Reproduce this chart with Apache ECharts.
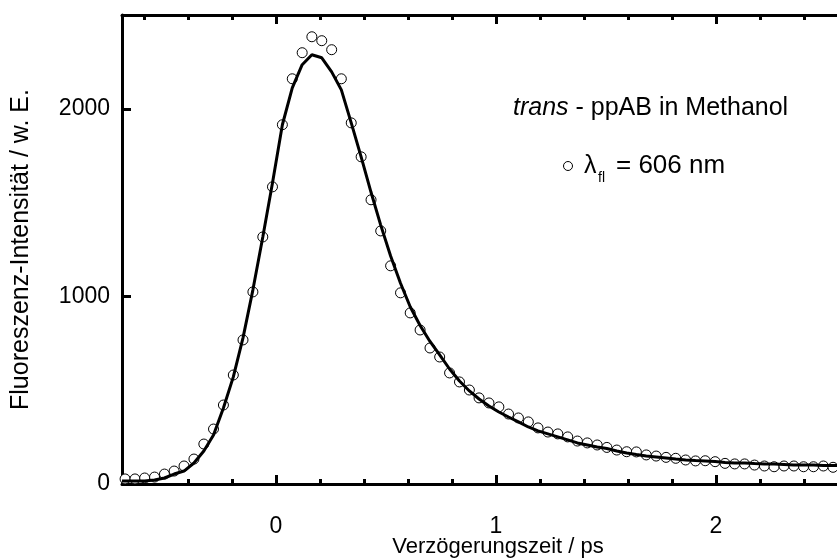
<!DOCTYPE html>
<html>
<head>
<meta charset="utf-8">
<script src="https://cdn.jsdelivr.net/npm/echarts@6/dist/echarts.min.js"></script>
<style>
html,body{margin:0;padding:0;background:#fff;}
#chart{width:837px;height:559px;}
</style>
</head>
<body>
<div id="chart"></div>
<script>
// Delay times (ps) of measured points
var timePs = [-0.686,-0.641,-0.597,-0.552,-0.507,-0.463,-0.418,-0.373,-0.328,-0.284,
  -0.239,-0.194,-0.150,-0.105,-0.060,-0.016,0.029,0.074,0.119,0.163,
  0.208,0.253,0.297,0.342,0.387,0.432,0.476,0.521,0.566,0.610,
  0.655,0.700,0.744,0.789,0.834,0.879,0.923,0.968,1.013,1.057,
  1.102,1.147,1.191,1.236,1.281,1.326,1.370,1.415,1.460,1.504,
  1.549,1.594,1.638,1.683,1.728,1.773,1.817,1.862,1.907,1.951,
  1.996,2.041,2.085,2.130,2.175,2.220,2.264,2.309,2.354,2.398,
  2.443,2.488,2.532];
// Measured fluorescence intensity (open circles)
var intensity = [27,27,32,37,53,69,96,133,213,293,
  421,581,768,1024,1317,1584,1915,2160,2299,2384,
  2363,2315,2160,1925,1744,1515,1349,1163,1019,912,
  821,725,677,592,544,501,459,432,411,373,
  352,331,299,277,267,251,229,219,208,195,
  181,172,171,155,149,142,137,128,123,124,
  119,110,107,107,101,96,92,96,96,92,
  92,96,89];
// Fit curve (solid line)
var fitTime = [-0.700,-0.686,-0.641,-0.597,-0.552,-0.507,-0.463,-0.418,-0.373,-0.328,-0.284,
  -0.239,-0.194,-0.150,-0.105,-0.060,-0.016,0.029,0.074,0.119,0.163,
  0.208,0.253,0.297,0.342,0.387,0.432,0.476,0.521,0.566,0.610,
  0.655,0.700,0.744,0.789,0.834,0.879,0.923,0.968,1.013,1.057,
  1.102,1.147,1.191,1.236,1.281,1.326,1.370,1.415,1.460,1.504,
  1.549,1.594,1.638,1.683,1.728,1.773,1.817,1.862,1.907,1.951,
  1.996,2.041,2.085,2.130,2.175,2.220,2.264,2.309,2.354,2.398,
  2.443,2.488,2.532,2.577];
var fitValues = [16,16,16,16,21,32,53,69,112,176,261,
  405,571,779,1035,1317,1605,1915,2112,2235,2288,
  2272,2197,2101,1925,1744,1555,1380,1215,1070,945,
  845,760,688,613,549,496,453,416,384,357,
  331,304,283,267,251,235,219,208,197,189,
  176,165,157,149,144,139,133,128,125,123,
  120,115,112,112,109,107,107,104,101,101,
  101,99,99,98];
// Axis ticks
var xMajorTicks = [0,1,2];
var xMinorTicks = [-0.6,-0.4,-0.2,0.2,0.4,0.6,0.8,1.2,1.4,1.6,1.8,2.2,2.4];
var yMajorTicks = [0,1000,2000];

var FONT = 'Liberation Sans, Arial, sans-serif';
var chart = echarts.init(document.getElementById('chart'), null, {renderer:'canvas'});

function pairs(xs, ys){ return xs.map(function(x,i){ return [x, ys[i]]; }); }

var axLine = {show:true, onZero:false, lineStyle:{color:'#000', width:3}};
function xAx(pos, ticks, len, withLine, withLabel){
  return {
    type:'value', position:pos, min:-0.7, max:2.6,
    axisLine: withLine ? axLine : {show:false},
    axisTick:{show:true, inside:true, length:len, customValues:ticks, lineStyle:{color:'#000', width:3}},
    axisLabel: withLabel ? {show:true, customValues:xMajorTicks, color:'#000', fontSize:23, fontFamily:FONT, margin:31,
                            formatter:function(v){ return String(v); }} : {show:false},
    splitLine:{show:false}
  };
}

var xAxes = [xAx('bottom', xMajorTicks, 9, true, true), xAx('bottom', xMinorTicks, 5, false, false),
             xAx('top', xMajorTicks, 9, true, false), xAx('top', xMinorTicks, 5, false, false)];
xAxes[0].name = 'Verzögerungszeit / ps';
xAxes[0].nameLocation = 'middle';
xAxes[0].nameGap = 52;
xAxes[0].nameMoveOverlap = false;
xAxes[0].nameTextStyle = {color:'#000', fontSize:22, fontFamily:FONT, padding:[0,0,0,26]};

chart.setOption({
  animation:false,
  backgroundColor:'#fff',
  grid:{left:122, top:15, width:726, bottom:75, containLabel:false, outerBoundsMode:'none'},
  xAxis: xAxes,
  yAxis:{
    type:'value', min:0, max:2500, position:'left',
    axisLine: axLine,
    axisTick:{show:true, inside:true, length:9, customValues:yMajorTicks, lineStyle:{color:'#000', width:3}},
    axisLabel:{show:true, customValues:yMajorTicks, color:'#000', fontSize:23, fontFamily:FONT, margin:12,
               formatter:function(v){ return String(v); }},
    splitLine:{show:false},
    name:'Fluoreszenz-Intensität / w. E.', nameLocation:'middle', nameGap:88, nameMoveOverlap:false,
    nameTextStyle:{color:'#000', fontSize:25, fontFamily:FONT}
  },
  graphic:[
    {type:'text', left:513, top:96, style:{
      text:'{i|trans} - ppAB in Methanol',
      fill:'#000', font:'25px '+FONT,
      rich:{i:{fontStyle:'italic', fontSize:25, fontFamily:FONT, fill:'#000'}}
    }},
    {type:'circle', shape:{cx:568, cy:166, r:4.5}, style:{fill:'#fff', stroke:'#000', lineWidth:1}},
    {type:'text', left:584, top:154, style:{text:'λ', fill:'#000', font:'25px '+FONT}},
    {type:'text', left:598, top:171, style:{text:'fl', fill:'#000', font:'14px '+FONT}},
    {type:'text', left:616, top:153, style:{text:'= 606 nm', fill:'#000', font:'26px '+FONT}}
  ],
  series:[
    {type:'scatter', name:'data', xAxisIndex:0, data:pairs(timePs, intensity),
     symbol:'circle', symbolSize:10, itemStyle:{color:'#fff', borderColor:'#000', borderWidth:1, opacity:1}, z:2},
    {type:'line', name:'fit', xAxisIndex:0, data:pairs(fitTime, fitValues),
     showSymbol:false, symbol:'none', smooth:false, lineStyle:{color:'#000', width:3}, z:3}
  ]
});
</script>
</body>
</html>
